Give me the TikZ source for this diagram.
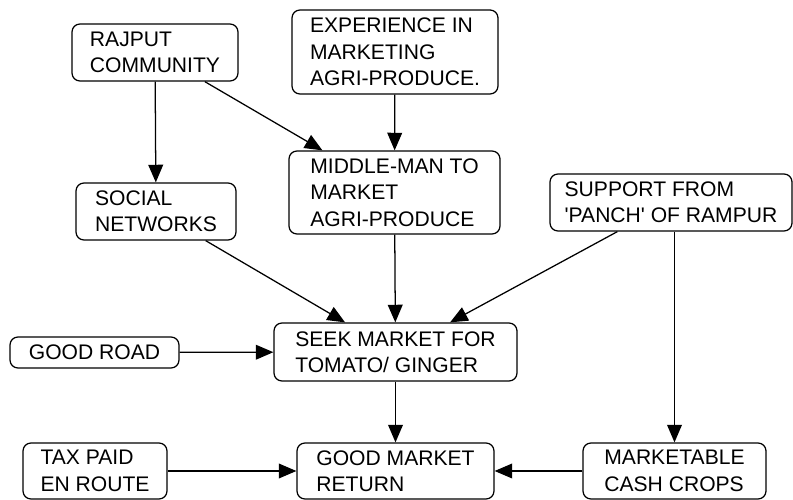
\documentclass[tikz,border=0pt]{standalone}
\usepackage{fontspec}
\setmainfont{Liberation Sans}
\usetikzlibrary{arrows.meta}
\begin{document}
\begin{tikzpicture}[x=0.25mm, y=-0.25mm, line width=0.9pt,
    box/.style={draw, rounded corners=2mm, align=left, inner sep=0pt, font=\fontsize{15}{18.8}\selectfont},
    arr/.style={-{Triangle[length=4.4mm, width=3.7mm]}}]
    \useasboundingbox (0, 0) rectangle (793, 500);
    \node[box, minimum width=41.5mm, minimum height=14.25mm] (rajput) at (155, 52.5) {RAJPUT\\COMMUNITY};
    \node[box, minimum width=51.5mm, minimum height=21mm] (experience) at (395, 52) {EXPERIENCE IN\\MARKETING\\AGRI-PRODUCE.};
    \node[box, minimum width=52.75mm, minimum height=20.75mm] (middle) at (394.5, 192.5) {MIDDLE-MAN TO\\MARKET\\AGRI-PRODUCE};
    \node[box, minimum width=40mm, minimum height=14.25mm] (social) at (156, 211.5) {SOCIAL\\NETWORKS};
    \node[box, minimum width=60.5mm, minimum height=14.25mm] (support) at (671, 202.5) {SUPPORT FROM\\\textquotesingle PANCH\textquotesingle{} OF RAMPUR};
    \node[box, minimum width=42.25mm, minimum height=7.75mm] (road) at (94.5, 352.5) {GOOD ROAD};
    \node[box, minimum width=60.75mm, minimum height=14.5mm] (seek) at (395.5, 352) {SEEK MARKET FOR\\TOMATO/ GINGER};
    \node[box, minimum width=36mm, minimum height=14mm] (tax) at (95, 471) {TAX PAID\\EN ROUTE};
    \node[box, minimum width=49.25mm, minimum height=14mm] (return) at (395.5, 471) {GOOD MARKET\\RETURN};
    \node[box, minimum width=45.75mm, minimum height=14mm] (cash) at (674.5, 471) {MARKETABLE\\CASH CROPS};
    \foreach \a/\b in {rajput/social, rajput/middle, experience/middle, social/seek, middle/seek,
        support/seek, road/seek, seek/return, tax/return, cash/return} {
        \draw[arr] (\a) -- (\b);
    };
    \draw[arr] (cash.north |- support.south) -- (cash);
\end{tikzpicture}
\end{document}
